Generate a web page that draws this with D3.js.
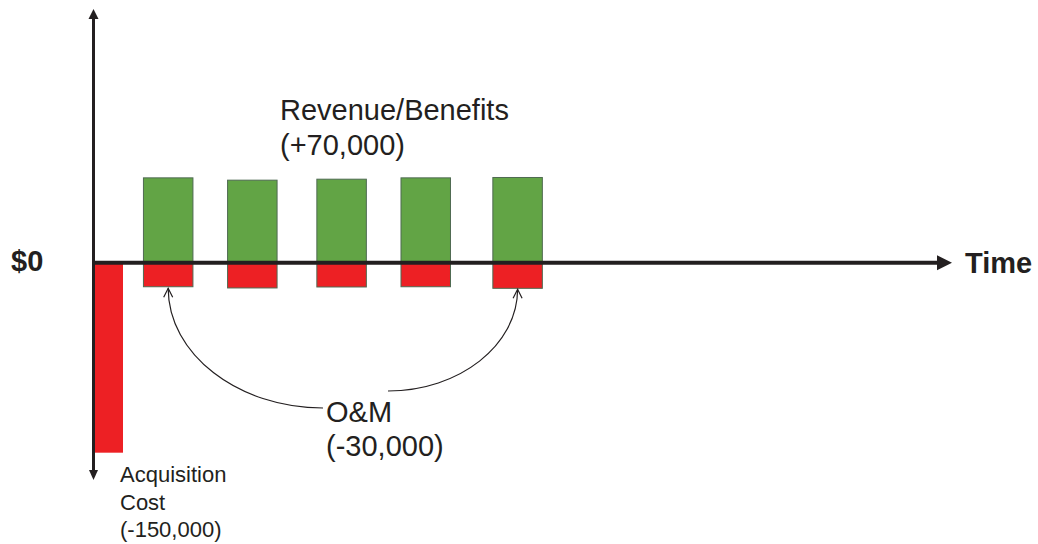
<!DOCTYPE html>
<html>
<head>
<meta charset="utf-8">
<script src="https://cdn.jsdelivr.net/npm/d3@7/dist/d3.min.js"></script>
<style>
  html, body { margin: 0; padding: 0; background: #ffffff; }
  svg { display: block; }
  text { font-family: "Liberation Sans", Arial, Helvetica, sans-serif; fill: #231f20; }
</style>
</head>
<body>
<svg id="chart" width="1038" height="544"></svg>
<script>
// ---- data ----
const periods = ["Year 1", "Year 2", "Year 3", "Year 4", "Year 5"];
const periodTimes = [0.87, 1.85, 2.89, 3.87, 4.94];
const revenueValues = [69900, 68000, 68800, 69900, 70200];
const omValues = [-19800, -20800, -20000, -19800, -21100];
const acquisitionValue = [-156500];
const timeDomain = [0, 10];
const valueDomain = [-179000, 209000];
const revenueLabel = ["Revenue/Benefits", "(+70,000)"];
const omLabel = ["O&M", "(-30,000)"];
const acquisitionLabel = ["Acquisition", "Cost", "(-150,000)"];
const zeroLabel = ["$0"];
const timeLabel = ["Time"];

// ---- layout ----
const svg = d3.select("#chart");
const x = d3.scaleLinear().domain(timeDomain).range([93.5, 952]);
const y = d3.scaleLinear().domain(valueDomain).range([480, 9]);
const barW = 49.5;
const acqW = 28;
const ink = "#231f20";
const green = "#62a445";
const red = "#ed2024";
const barStroke = "#4f6a52";

const rev = periods.map((p, i) => ({ p, t: periodTimes[i], v: revenueValues[i] }));
const om = periods.map((p, i) => ({ p, t: periodTimes[i], v: omValues[i] }));

// acquisition bar
svg.append("g").selectAll("rect").data(acquisitionValue).join("rect")
  .attr("x", x(0) + 1.5)
  .attr("y", y(0))
  .attr("width", acqW)
  .attr("height", d => y(d) - y(0))
  .attr("fill", red);

// O&M bars
svg.append("g").selectAll("rect").data(om).join("rect")
  .attr("x", d => x(d.t) - barW / 2)
  .attr("y", y(0))
  .attr("width", barW)
  .attr("height", d => y(d.v) - y(0))
  .attr("fill", red)
  .attr("stroke", barStroke)
  .attr("stroke-width", 1);

// revenue bars
svg.append("g").selectAll("rect").data(rev).join("rect")
  .attr("x", d => x(d.t) - barW / 2)
  .attr("y", d => y(d.v))
  .attr("width", barW)
  .attr("height", d => y(0) - y(d.v))
  .attr("fill", green)
  .attr("stroke", barStroke)
  .attr("stroke-width", 1);

// axes
const x0 = x(0), y0 = y(0);
const xEnd = x(timeDomain[1]);
const yTop = y(valueDomain[1]);
const yBot = y(valueDomain[0]);
// horizontal time axis
svg.append("line").attr("x1", x0 - 1.5).attr("x2", xEnd - 14).attr("y1", y0).attr("y2", y0)
  .attr("stroke", ink).attr("stroke-width", 4);
svg.append("path")
  .attr("d", `M${xEnd},${y0} L${xEnd - 15},${y0 - 7.5} L${xEnd - 15},${y0 + 7.5} Z`)
  .attr("fill", ink);
// vertical value axis
svg.append("line").attr("x1", x0).attr("x2", x0).attr("y1", yTop + 9).attr("y2", yBot - 9)
  .attr("stroke", ink).attr("stroke-width", 3);
svg.append("path")
  .attr("d", `M${x0},${yTop} L${x0 - 5},${yTop + 10} L${x0 + 5},${yTop + 10} Z`)
  .attr("fill", ink);
svg.append("path")
  .attr("d", `M${x0},${yBot} L${x0 - 4.5},${yBot - 10} L${x0 + 4.5},${yBot - 10} Z`)
  .attr("fill", ink);

// labels
svg.append("text").attr("x", 11).attr("y", 271)
  .attr("font-size", 29).attr("font-weight", "bold").text(zeroLabel[0]);
svg.append("text").attr("x", 965).attr("y", 273)
  .attr("font-size", 29).attr("font-weight", "bold").text(timeLabel[0]);

svg.append("g").selectAll("text").data(revenueLabel).join("text")
  .attr("x", 280).attr("y", (d, i) => 120 + i * 35)
  .attr("font-size", 29).text(d => d);

const omX = 326, omY = 422;
svg.append("g").selectAll("text").data(omLabel).join("text")
  .attr("x", omX).attr("y", (d, i) => omY + i * 34)
  .attr("font-size", 29).text(d => d);

svg.append("g").selectAll("text").data(acquisitionLabel).join("text")
  .attr("x", 120).attr("y", (d, i) => 482 + i * 27.5)
  .attr("font-size", 22).text(d => d);

// O&M annotation curves
const first = om[0], last = om[om.length - 1];
const tipL = [x(first.t), y(first.v) + 1.5];
const tipR = [x(last.t), y(last.v) + 1];
const startL = [omX - 3, omY - 14];
const startR = [omX + 62, omY - 31];

function curve(s, tip) {
  const dx = tip[0] - s[0], dy = s[1] - tip[1];
  const k = 0.55;
  return `M${s[0]},${s[1]} C${s[0] + dx * k},${s[1]} ${tip[0]},${tip[1] + dy * k} ${tip[0]},${tip[1]}`;
}
function chevron(tip) {
  return `M${tip[0] - 4.5},${tip[1] + 9} L${tip[0]},${tip[1]} L${tip[0] + 4.5},${tip[1] + 9}`;
}
[[startL, tipL], [startR, tipR]].forEach(([s, t]) => {
  svg.append("path").attr("d", curve(s, t)).attr("fill", "none")
    .attr("stroke", ink).attr("stroke-width", 1.2);
  svg.append("path").attr("d", chevron(t)).attr("fill", "none")
    .attr("stroke", ink).attr("stroke-width", 1.2);
});
</script>
</body>
</html>
